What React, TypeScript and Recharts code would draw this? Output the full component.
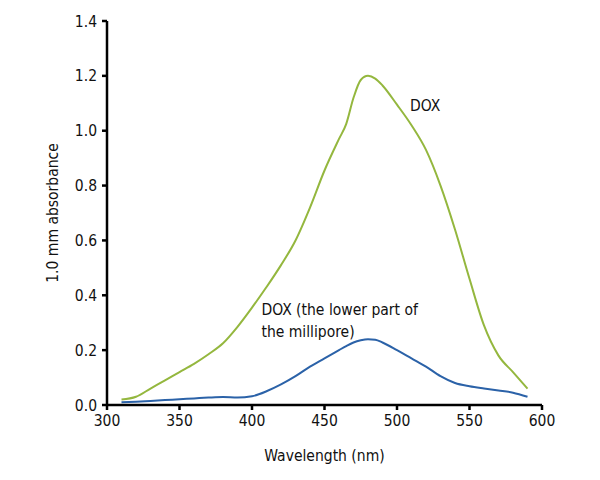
import { LineChart, Line, XAxis, YAxis, ReferenceDot, Label } from "recharts";

const wavelengths = [310, 320, 330, 340, 350, 360, 370, 380, 390, 400, 410, 420, 430, 440, 450, 460, 465, 470, 475, 480, 485, 490, 500, 510, 520, 530, 540, 550, 560, 570, 580, 590];
const doxTop = [0.02, 0.03, 0.06, 0.09, 0.12, 0.15, 0.185, 0.225, 0.285, 0.355, 0.43, 0.51, 0.6, 0.72, 0.855, 0.97, 1.025, 1.12, 1.185, 1.2, 1.19, 1.165, 1.095, 1.02, 0.93, 0.8, 0.64, 0.46, 0.29, 0.18, 0.12, 0.06];
const doxLower = [0.01, 0.012, 0.015, 0.018, 0.021, 0.024, 0.027, 0.029, 0.027, 0.032, 0.05, 0.075, 0.105, 0.14, 0.17, 0.2, 0.215, 0.228, 0.236, 0.24, 0.238, 0.228, 0.2, 0.17, 0.14, 0.105, 0.08, 0.068, 0.06, 0.053, 0.045, 0.03];

const xTicks = [300, 350, 400, 450, 500, 550, 600];
const yTicks = [0, 0.2, 0.4, 0.6, 0.8, 1.0, 1.2, 1.4];

// where the annotation texts sit, in data units
const doxLabelAt = { x: 509, y: 1.093, text: "DOX" };
const lowerLabelAt = [
  { x: 406.5, y: 0.347, text: "DOX (the lower part of" },
  { x: 406.5, y: 0.268, text: "the millipore)" },
];

const data = wavelengths.map((w, i) => ({ wl: w, top: doxTop[i], lower: doxLower[i] }));

const font = "'Liberation Sans Narrow', 'DejaVu Sans Condensed', sans-serif";
const textStyle = { fill: "#111", fontSize: 15.5, fontFamily: font };

export default function App() {
  const notes = [doxLabelAt, ...lowerLabelAt];
  return (
    <div style={{ position: "absolute", left: 0, top: 0, background: "#fff" }}>
      <LineChart width={600} height={480} data={data} margin={{ top: 21, right: 58, bottom: 45, left: 47 }}>
        <XAxis
          dataKey="wl"
          type="number"
          domain={[300, 600]}
          ticks={xTicks}
          stroke="#000"
          strokeWidth={2.5}
          tickSize={5}
          tickMargin={5}
          tick={textStyle}
          height={30}
        >
          <Label value="Wavelength (nm)" position="bottom" offset={15} style={textStyle} />
        </XAxis>
        <YAxis
          type="number"
          domain={[0, 1.4]}
          ticks={yTicks}
          stroke="#000"
          strokeWidth={2.5}
          tickSize={5}
          tickMargin={5}
          tick={textStyle}
          tickFormatter={(v: number) => v.toFixed(1)}
          width={60}
        >
          <Label value="1.0 mm absorbance" angle={-90} position="insideLeft" offset={5} style={{ ...textStyle, textAnchor: "middle" }} />
        </YAxis>
        <Line type="monotone" dataKey="top" stroke="#94b73e" strokeWidth={2} dot={false} isAnimationActive={false} />
        <Line type="monotone" dataKey="lower" stroke="#2b62a8" strokeWidth={2} dot={false} isAnimationActive={false} />
        {notes.map((n) => (
          <ReferenceDot key={n.text} x={n.x} y={n.y} r={0} fill="none" stroke="none">
            <Label value={n.text} position="right" offset={0} style={textStyle} />
          </ReferenceDot>
        ))}
      </LineChart>
    </div>
  );
}
